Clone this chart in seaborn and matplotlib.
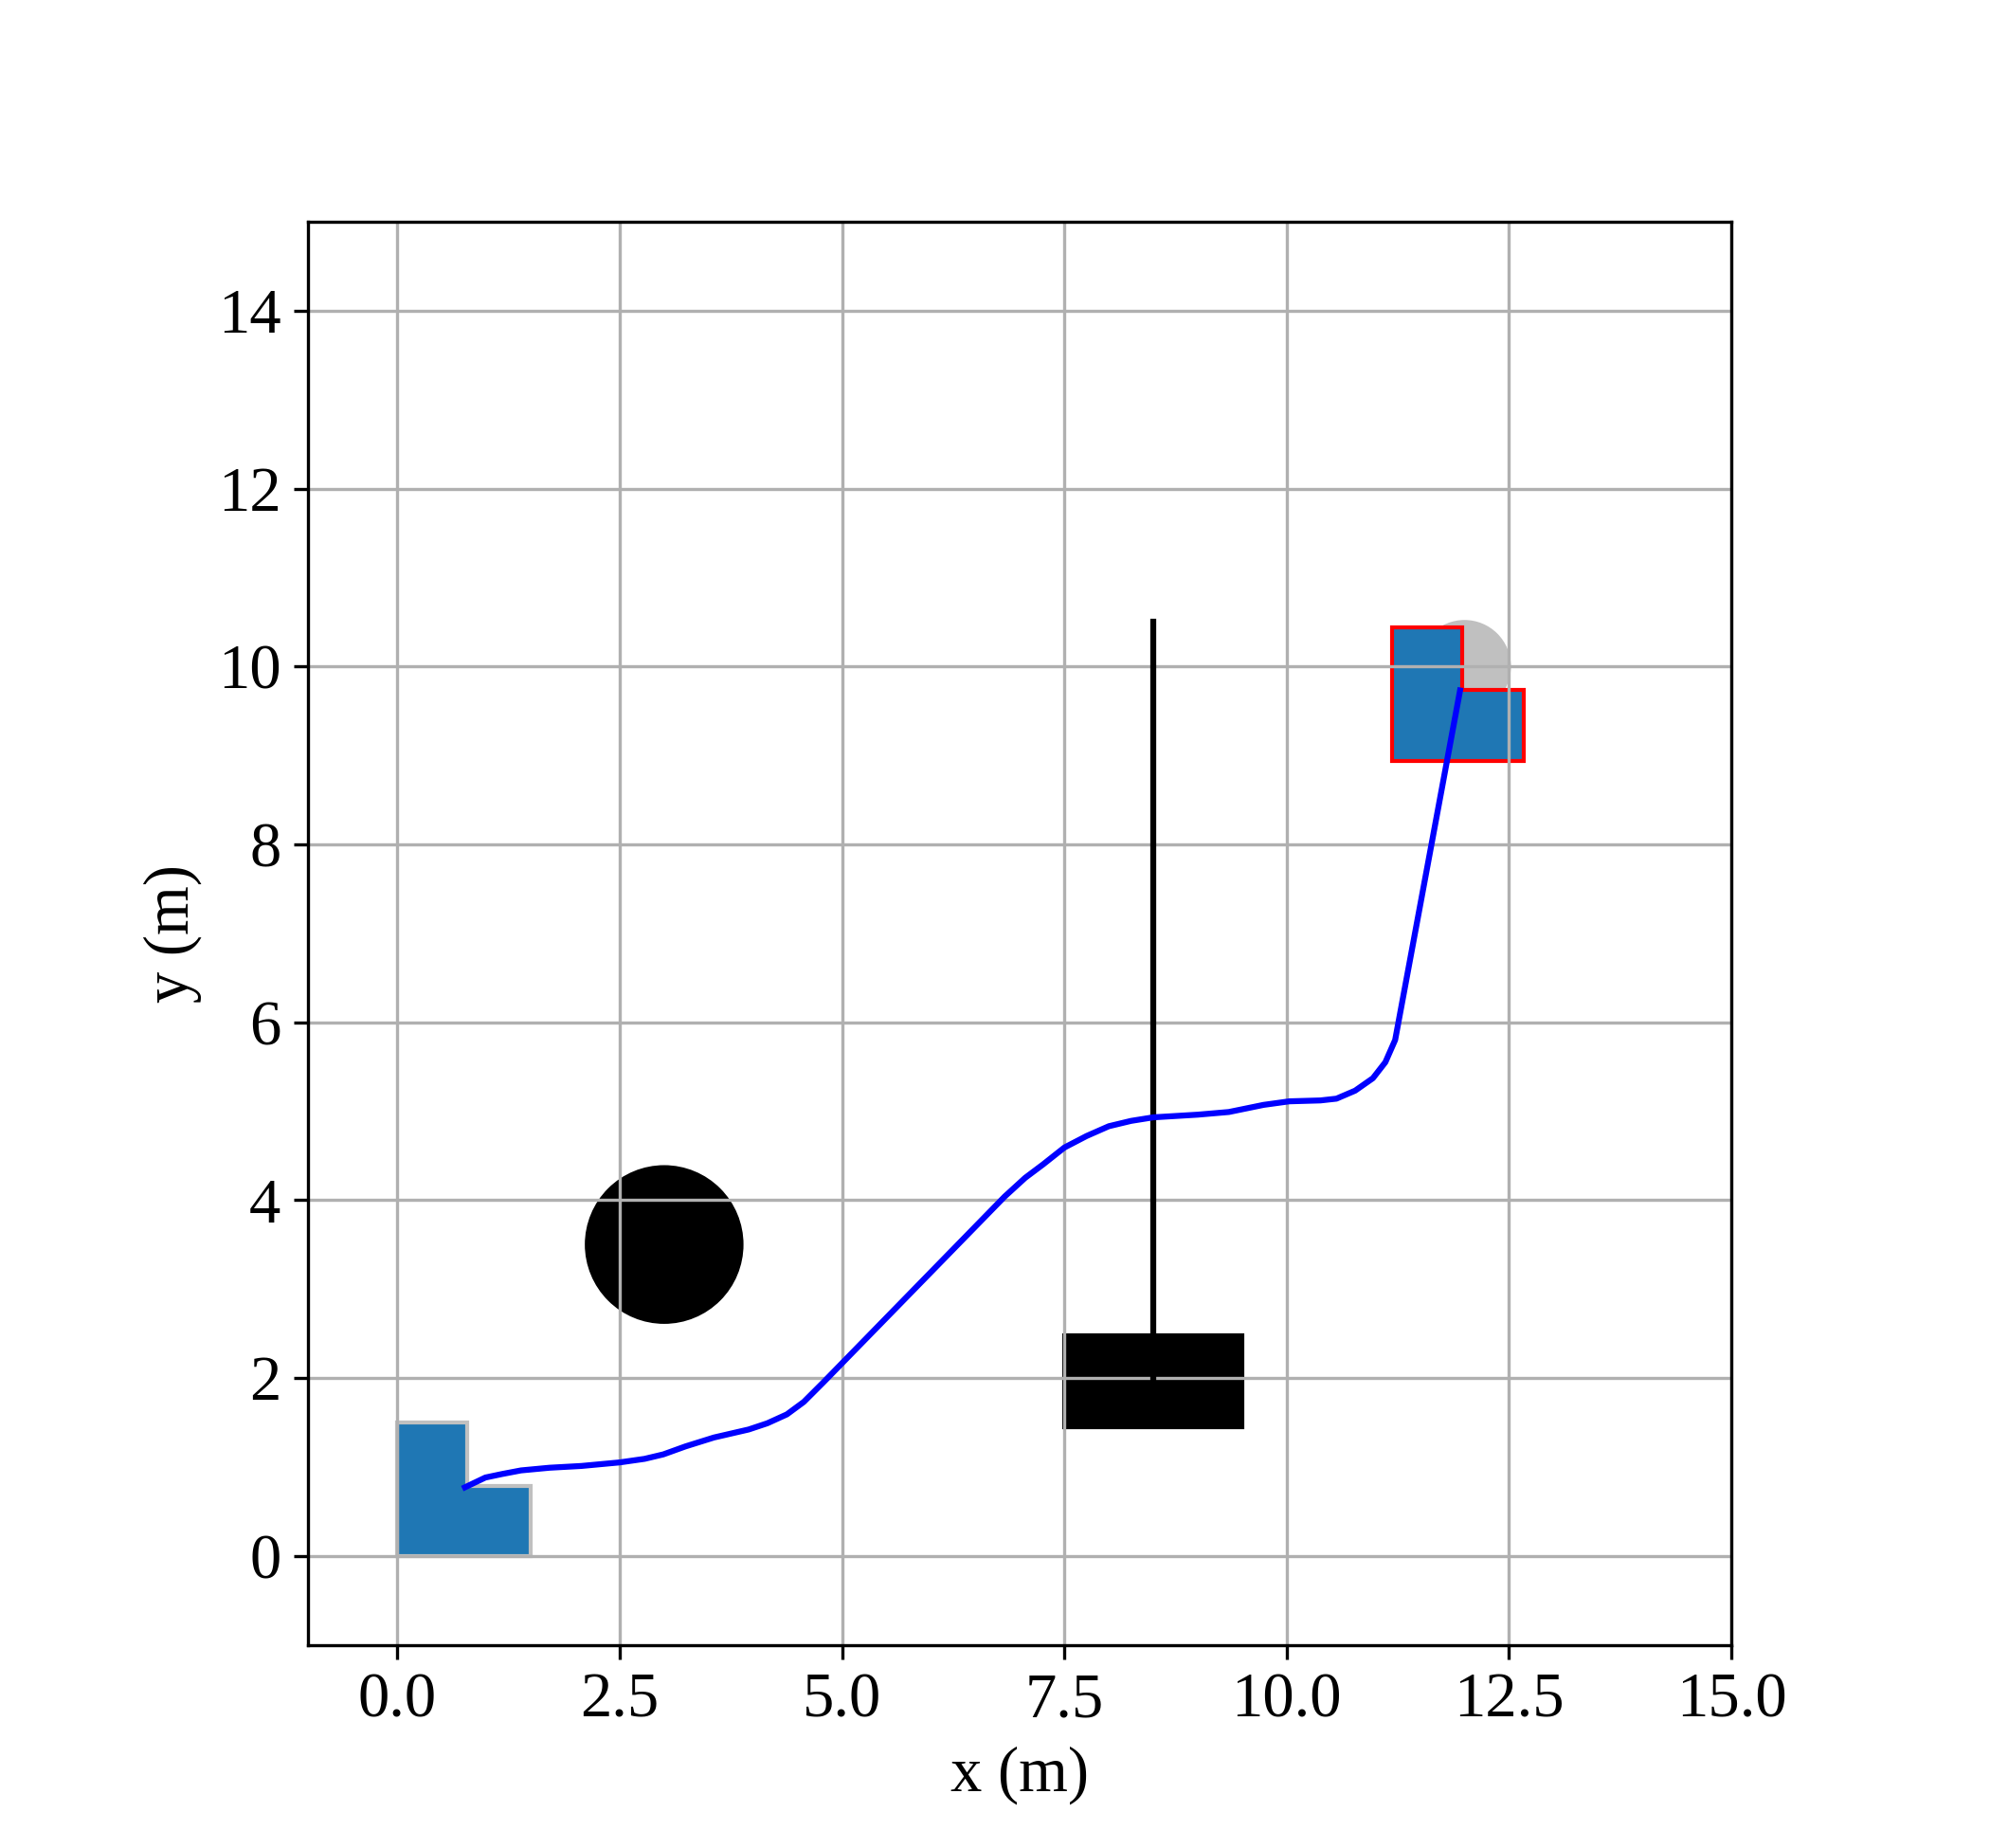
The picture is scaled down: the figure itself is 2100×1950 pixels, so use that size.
# plot.py
# Planned path of an L-shaped robot past two obstacles and a wall, from start pose to goal pose.

import numpy as np
import pandas as pd
import matplotlib
matplotlib.use("Agg")
import matplotlib.pyplot as plt
from matplotlib.patches import Polygon, Circle, Rectangle
import seaborn as sns

# robot footprint at start and at goal (polygon corners, m)
start_x = [0.0, 1.5, 1.5, 0.78, 0.78, 0.0]
start_y = [0.0, 0.0, 0.79, 0.79, 1.5, 1.5]
goal_x = [11.18, 12.67, 12.67, 11.97, 11.97, 11.18]
goal_y = [8.94, 8.94, 9.74, 9.74, 10.44, 10.44]

# goal region
goal_center = (12.0, 10.0)
goal_radius = 0.5

# obstacles
disc_center = (3.0, 3.5)
disc_radius = 0.87
block_corner = (7.5, 1.45)
block_w, block_h = 2.0, 1.03
wall_x = [8.5, 8.5]
wall_y = [2.0, 10.5]

# planned path
path_x = [0.76, 0.99, 1.18, 1.39, 1.71, 2.07, 2.50, 2.78, 2.99, 3.24, 3.56,
          3.95, 4.16, 4.38, 4.57, 4.79, 6.01, 6.83, 7.06, 7.26, 7.50,
          7.75, 8.00, 8.25, 8.50, 9.00, 9.35, 9.74, 10.03, 10.38, 10.56,
          10.77, 10.97, 11.11, 11.22, 11.95]
path_y = [0.77, 0.88, 0.92, 0.96, 0.99, 1.01, 1.05, 1.09, 1.14, 1.23, 1.33,
          1.42, 1.49, 1.59, 1.73, 1.95, 3.20, 4.04, 4.25, 4.40, 4.59,
          4.72, 4.83, 4.89, 4.93, 4.96, 4.99, 5.07, 5.11, 5.12, 5.14,
          5.23, 5.37, 5.55, 5.80, 9.73]

plt.rcParams["font.family"] = ["Liberation Serif", "DejaVu Serif"]
plt.rcParams["mathtext.fontset"] = "stix"

fig, ax = plt.subplots(figsize=(7, 6.5), dpi=300)

# patches sit under the grid (zorder 1), lines above it
ax.add_patch(Circle(goal_center, goal_radius, color="silver"))
ax.add_patch(Polygon(np.column_stack([start_x, start_y]), closed=True,
                     facecolor="#1f77b4", edgecolor="silver", lw=1))
ax.add_patch(Polygon(np.column_stack([goal_x, goal_y]), closed=True,
                     facecolor="#1f77b4", edgecolor="red", lw=1))
ax.add_patch(Circle(disc_center, disc_radius, color="black"))
ax.add_patch(Rectangle(block_corner, block_w, block_h, color="black"))

ax.plot(wall_x, wall_y, color="black", lw=1.5)

path = pd.DataFrame({"x": path_x, "y": path_y})
sns.lineplot(data=path, x="x", y="y", sort=False, estimator=None,
             color="blue", lw=1.5, ax=ax)

ax.set_xlim(-1, 15)
ax.set_ylim(-1, 15)
ax.set_aspect("equal")
ax.grid(True)
ax.set_xlabel("x (m)", fontsize=16)
ax.set_ylabel("y (m)", fontsize=16)
ax.tick_params(labelsize=16)

fig.savefig("out.png", dpi=300)
plt.close(fig)
